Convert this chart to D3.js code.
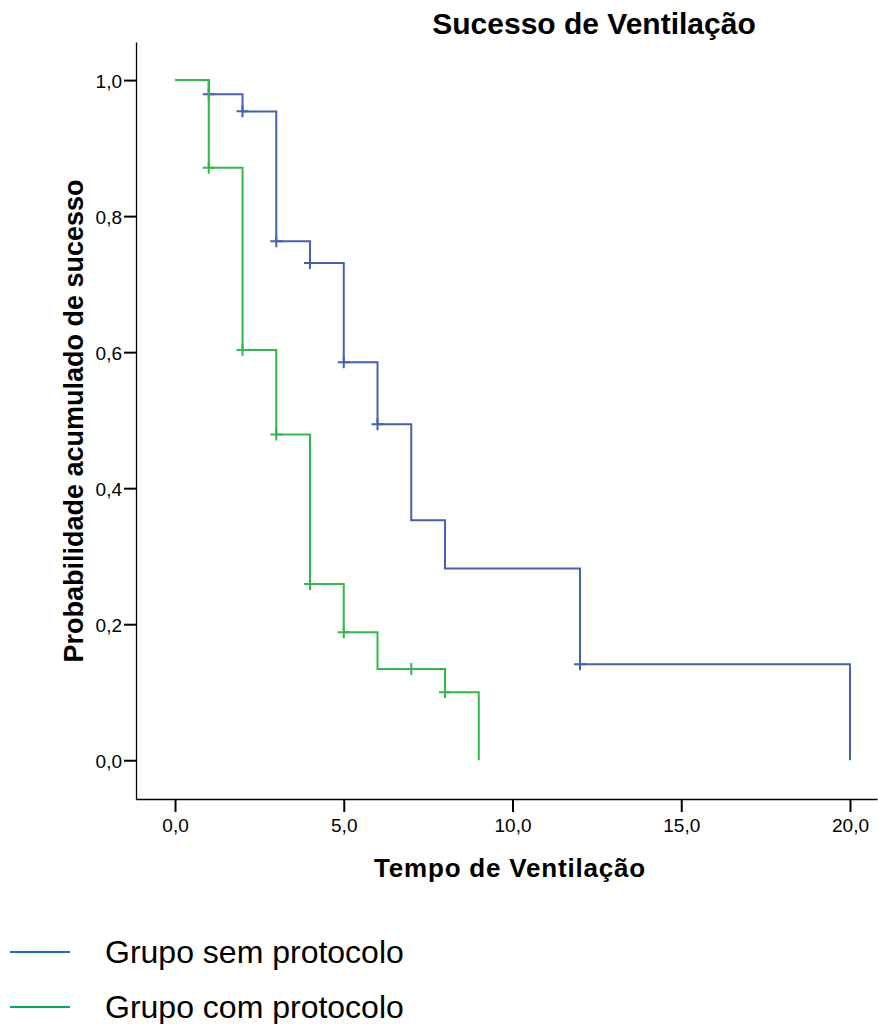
<!DOCTYPE html>
<html>
<head>
<meta charset="utf-8">
<script src="https://cdn.jsdelivr.net/npm/d3@7"></script>
<style>
    body { margin: 0; background: #fff; }
    svg { display: block; }
</style>
</head>
<body>
<svg class="km-chart"></svg>
<script>
'use strict';

// Kaplan-Meier steps
var semTimes = [0, 1, 2, 3, 4, 5, 6, 7, 8, 12, 20];
var semSurv  = [1.0, 0.979, 0.954, 0.763, 0.731, 0.585, 0.494, 0.353, 0.282, 0.141, 0.0];
var semCensor = [1, 2, 3, 4, 5, 6, 12];

var comTimes = [0, 1, 2, 3, 4, 5, 6, 8, 9];
var comSurv  = [1.0, 0.871, 0.603, 0.479, 0.259, 0.188, 0.134, 0.100, 0.0];
var comCensor = [1, 2, 3, 4, 5, 7, 8];

var xTicks = [0, 5, 10, 15, 20];
var yTicks = [0, 0.2, 0.4, 0.6, 0.8, 1.0];
var legendLabels = ['Grupo sem protocolo', 'Grupo com protocolo'];

var svgWidth = 878,
    svgHeight = 1024,
    margin = { top: 42, right: 1, bottom: 225, left: 136 };

var svg = d3.select('svg.km-chart')
    .attr('width', svgWidth)
    .attr('height', svgHeight);

var xScale = d3.scaleLinear().domain([-1.156, 20.8]).range([margin.left, svgWidth - margin.right]);
var yScale = d3.scaleLinear().domain([-0.057, 1.056]).range([svgHeight - margin.bottom, margin.top]);

var tickFmt = function(d) { return d3.format('.1f')(d).replace('.', ','); };

var xAxis = d3.axisBottom(xScale).tickValues(xTicks).tickSize(13).tickSizeOuter(0).tickFormat(tickFmt);
var yAxis = d3.axisLeft(yScale).tickValues(yTicks).tickSize(12).tickSizeOuter(0).tickPadding(2).tickFormat(tickFmt);

var gx = svg.append('g').attr('transform', 'translate(0,' + (svgHeight - margin.bottom) + ')').call(xAxis);
var gy = svg.append('g').attr('transform', 'translate(' + margin.left + ',0)').call(yAxis);

[gx, gy].forEach(function(g) {
    g.select('.domain').attr('stroke', '#000').attr('stroke-width', 1.3);
    g.selectAll('.tick line').attr('stroke', '#000').attr('stroke-width', 2);
    g.selectAll('text')
        .attr('fill', '#000')
        .style('font-family', '"Liberation Sans", Arial, sans-serif')
        .style('font-size', '19px');
});
gx.selectAll('text').attr('y', 33).attr('dy', 0);
gy.selectAll('text').attr('dy', '0.38em');

var line = d3.line()
    .x(function(d) { return xScale(d[0]); })
    .y(function(d) { return yScale(d[1]); })
    .curve(d3.curveStepAfter);

var survAt = function(times, surv, t) {
    var v = surv[0];
    for (var i = 0; i < times.length; i++) {
        if (times[i] <= t) v = surv[i];
    }
    return v;
};

var series = [
    { times: semTimes, surv: semSurv, censor: semCensor, color: '#4560b4' },
    { times: comTimes, surv: comSurv, censor: comCensor, color: '#30b84c' }
];

series.forEach(function(s) {
    var pts = s.times.map(function(t, i) { return [t, s.surv[i]]; });
    svg.append('path')
        .attr('d', line(pts))
        .attr('fill', 'none')
        .attr('stroke', s.color)
        .attr('stroke-width', 2);

    s.censor.forEach(function(t) {
        var cx = xScale(t), cy = yScale(survAt(s.times, s.surv, t));
        svg.append('path')
            .attr('d', 'M' + (cx - 6) + ',' + cy + 'H' + (cx + 6) + 'M' + cx + ',' + (cy - 6) + 'V' + (cy + 6))
            .attr('stroke', s.color)
            .attr('stroke-width', 2)
            .attr('fill', 'none');
    });
});

var boldFont = '"Liberation Sans", Arial, sans-serif';

svg.append('text')
    .attr('x', 594).attr('y', 34)
    .attr('text-anchor', 'middle')
    .style('font-family', boldFont).style('font-weight', 'bold').style('font-size', '30px')
    .text('Sucesso de Ventilação');

svg.append('text')
    .attr('x', 510).attr('y', 877)
    .attr('text-anchor', 'middle')
    .style('font-family', boldFont).style('font-weight', 'bold').style('font-size', '26px')
    .style('letter-spacing', '0.8px')
    .text('Tempo de Ventilação');

svg.append('text')
    .attr('transform', 'translate(83,421) rotate(-90)')
    .attr('text-anchor', 'middle')
    .style('font-family', boldFont).style('font-weight', 'bold').style('font-size', '27px')
    .text('Probabilidade acumulado de sucesso');

var legendColors = ['#1470c8', '#00b050'];
legendLabels.forEach(function(lbl, i) {
    var ly = 952 + i * 55;
    svg.append('line')
        .attr('x1', 10).attr('x2', 70).attr('y1', ly).attr('y2', ly)
        .attr('stroke', legendColors[i]).attr('stroke-width', 2);
    svg.append('text')
        .attr('x', 105).attr('y', ly + 11)
        .style('font-family', boldFont).style('font-size', '32px')
        .text(lbl);
});
</script>
</body>
</html>
